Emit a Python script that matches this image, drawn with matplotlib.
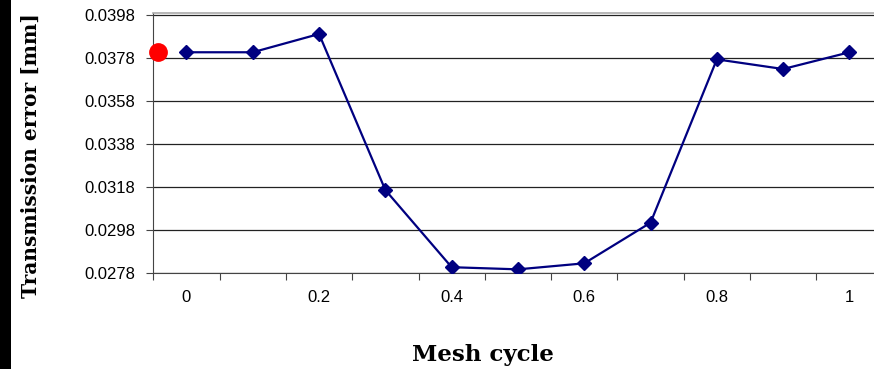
import matplotlib
matplotlib.use('Agg')
import matplotlib.pyplot as plt
from matplotlib.patches import Rectangle
import numpy as np

plt.rcParams['font.family'] = ['Liberation Sans', 'DejaVu Sans']

# mesh cycle positions and transmission error [mm]
mesh_cycle = [0, 0.1, 0.2, 0.3, 0.4, 0.5, 0.6, 0.7, 0.8, 0.9, 1.0]
trans_err = [0.03807, 0.03807, 0.03892, 0.03166, 0.02807, 0.02797,
             0.02825, 0.03014, 0.03774, 0.03729, 0.03807]
tick_labels = ['0', '', '0.2', '', '0.4', '', '0.6', '', '0.8', '', '1']
y_ticks = [0.0278, 0.0298, 0.0318, 0.0338, 0.0358, 0.0378, 0.0398]
red_x = -0.43      # highlighted point just left of the first category
red_y = 0.03807

fig = plt.figure(figsize=(8.74, 3.69), dpi=100)
ax = fig.add_axes([153.3 / 874, 1 - 273 / 369, 729.3 / 874, 260.5 / 369])

idx = np.arange(len(mesh_cycle))
ax.plot(idx, trans_err, color='#000080', lw=1.6, marker='D', ms=7.5,
        mec='#000080', mfc='#000080', zorder=3)
ax.plot([red_x], [red_y], 'o', color='#ff0000', ms=12.5, zorder=4, clip_on=False)

ax.set_xlim(-0.5, len(mesh_cycle) - 0.5)
ax.set_ylim(0.0278, 0.03992)
ax.set_yticks(y_ticks)
ax.set_yticklabels(['%.4f' % v for v in y_ticks])
ax.yaxis.grid(True, color='#222222', lw=0.9)
ax.set_axisbelow(True)

ax.set_xticks(idx)
ax.set_xticklabels(tick_labels)
ax.set_xticks(np.arange(-0.5, len(mesh_cycle) + 0.5), minor=True)
ax.tick_params(axis='x', which='major', length=0, pad=12, labelsize=12)
ax.tick_params(axis='x', which='minor', length=5, width=0.8, color='#444444')
ax.tick_params(axis='y', length=5, width=0.8, pad=8, labelsize=12, color='#444444')

ax.spines['right'].set_visible(False)
ax.spines['top'].set_color('#aaaaaa')
ax.spines['top'].set_linewidth(1.2)
ax.spines['left'].set_color('#444444')
ax.spines['bottom'].set_color('#444444')

fig.text(31 / 874, 1 - 156 / 369, 'Transmission error [mm]', family='DejaVu Serif',
         weight='bold', rotation=90, ha='center', va='center', fontsize=14.5)
fig.text(483 / 874, 1 - 355 / 369, 'Mesh cycle', family='DejaVu Serif',
         weight='bold', ha='center', va='center', fontsize=16.5)

fig.patches.append(Rectangle((0, 0), 11 / 874, 1, transform=fig.transFigure,
                             facecolor='black', edgecolor='none'))

fig.savefig('out.png', dpi=100)
